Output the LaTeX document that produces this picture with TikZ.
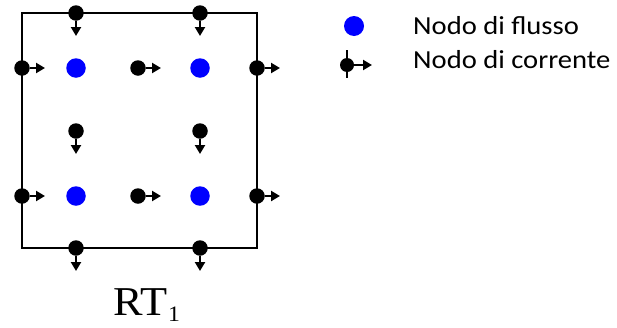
\documentclass[tikz,border=0pt]{standalone}
\usepackage{fontspec}
\setmainfont{Liberation Serif}
\newfontfamily\legendfont{Carlito}
\usetikzlibrary{arrows.meta}
\definecolor{rtblue} {HTML}{0000FF}
\definecolor{rtink}  {HTML}{000000}
\tikzset{
  rtflux/.style={circle, fill=rtblue, inner sep=0pt, minimum size=19.5pt},
  rtcur/.style={circle, fill=rtink, inner sep=0pt, minimum size=15.5pt},
  rtcurleg/.style={rtcur, minimum size=14pt},
  rtedge/.style={-{Triangle[length=9pt,width=10pt]}, draw=rtink, line width=2.4pt},
  rtwall/.style={draw=rtink, line width=2.5pt},
  rtlegend/.style={anchor=base west, inner sep=0pt, font=\legendfont\fontsize{26}{30}\selectfont},
}

\begin{document}
\begin{tikzpicture}[x=1pt,y=-1pt]
  \useasboundingbox (0,0) rectangle (617,327);
  \draw[rtwall] (22,13) rectangle (257,248);

  % flux nodes
  \node[rtflux] (f11) at (76,68)   {};
  \node[rtflux] (f12) at (200,68)  {};
  \node[rtflux] (f21) at (76,196)  {};
  \node[rtflux] (f22) at (200,196) {};

  % current nodes, vertical
  \node[rtcur] (v1) at (76,13)   {};  \coordinate (v1t) at (76,36);
  \node[rtcur] (v2) at (200,13)  {};  \coordinate (v2t) at (200,36);
  \node[rtcur] (v3) at (76,131)  {};  \coordinate (v3t) at (76,154);
  \node[rtcur] (v4) at (200,131) {};  \coordinate (v4t) at (200,154);
  \node[rtcur] (v5) at (76,248)  {};  \coordinate (v5t) at (76,271);
  \node[rtcur] (v6) at (200,248) {};  \coordinate (v6t) at (200,271);
  \draw[rtedge] (v1) -- (v1t);
  \draw[rtedge] (v2) -- (v2t);
  \draw[rtedge] (v3) -- (v3t);
  \draw[rtedge] (v4) -- (v4t);
  \draw[rtedge] (v5) -- (v5t);
  \draw[rtedge] (v6) -- (v6t);

  % current nodes, horizontal
  \node[rtcur] (h1) at (22,68)   {};  \coordinate (h1t) at (45,68);
  \node[rtcur] (h2) at (138,68)  {};  \coordinate (h2t) at (161,68);
  \node[rtcur] (h3) at (257,68)  {};  \coordinate (h3t) at (280,68);
  \node[rtcur] (h4) at (22,196)  {};  \coordinate (h4t) at (45,196);
  \node[rtcur] (h5) at (138,196) {};  \coordinate (h5t) at (161,196);
  \node[rtcur] (h6) at (257,196) {};  \coordinate (h6t) at (280,196);
  \draw[rtedge] (h1) -- (h1t);
  \draw[rtedge] (h2) -- (h2t);
  \draw[rtedge] (h3) -- (h3t);
  \draw[rtedge] (h4) -- (h4t);
  \draw[rtedge] (h5) -- (h5t);
  \draw[rtedge] (h6) -- (h6t);

  \node[anchor=base west, inner sep=0pt, font=\fontsize{41}{45}\selectfont] (rt) at (113,315)
    {\scalebox{1.08}[1]{RT\hspace{1pt}\raisebox{-6pt}{\fontsize{22}{22}\selectfont 1}}};

  % legend
  \node[rtflux, minimum size=20pt] (lf) at (354,26) {};
  \node[rtlegend] (lft) at (413,34.3) {\scalebox{1.1}[1]{Nodo di flusso}};
  \coordinate (lwa) at (347,50);
  \coordinate (lwb) at (347,78);
  \draw[line width=2pt, draw=rtink] (lwa) -- (lwb);
  \node[rtcurleg] (lc) at (347,65) {};
  \coordinate (lct) at (372,65);
  \draw[rtedge] (lc) -- (lct);
  \node[rtlegend] (lctt) at (413,68.3) {\scalebox{1.1}[1]{Nodo di corrente}};
\end{tikzpicture}
\end{document}
